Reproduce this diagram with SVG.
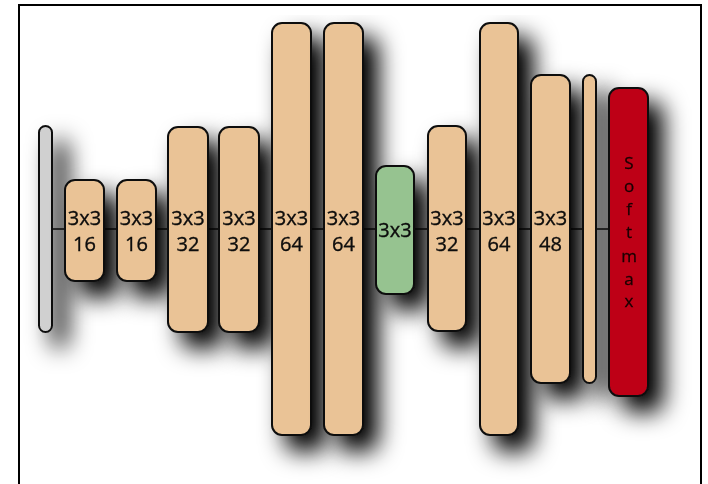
<svg xmlns="http://www.w3.org/2000/svg" width="708" height="484" viewBox="0 0 708 484">
<defs>
<filter id="sh" filterUnits="userSpaceOnUse" x="0" y="0" width="708" height="484">
<feGaussianBlur in="SourceAlpha" stdDeviation="12"/>
<feOffset dx="14" dy="15" result="b"/>
<feComponentTransfer><feFuncA type="linear" slope="1.05"/></feComponentTransfer>
<feMerge><feMergeNode/><feMergeNode in="SourceGraphic"/></feMerge>
</filter>
</defs>
<style>
.b{stroke:#111;stroke-width:2}
.tan{fill:#EAC396}
.gray{fill:#D0D0D0}
.green{fill:#96C390}
.red{fill:#BE0019}
.t{font-family:"Open Sans","DejaVu Sans",sans-serif;font-size:20px;fill:#0a0a0a;stroke:#0a0a0a;stroke-width:0.35;text-anchor:middle}
.s{font-family:"Open Sans","DejaVu Sans",sans-serif;font-size:17px;fill:#1a0000;stroke:#1a0000;stroke-width:0.3;text-anchor:middle}
.n{filter:url(#sh)}
</style>
<rect x="0" y="0" width="708" height="484" fill="#fff"/>
<rect x="19" y="5" width="682" height="490" fill="none" stroke="#000" stroke-width="2"/>
<g id="connectors">
<line x1="45" y1="229" x2="628" y2="229" stroke="#111" stroke-width="1.6"/>
</g>
<g id="input" class="n"><rect class="b gray" x="39" y="126" width="13" height="206" rx="6.5"/></g>
<g id="c1" class="n"><rect class="b tan" x="65" y="180" width="39" height="101" rx="10"/><text class="t" x="84.5" y="225">3x3</text><text class="t" x="84.5" y="251">16</text></g>
<g id="c2" class="n"><rect class="b tan" x="117" y="180" width="39" height="101" rx="10"/><text class="t" x="136.5" y="225">3x3</text><text class="t" x="136.5" y="251">16</text></g>
<g id="c3" class="n"><rect class="b tan" x="168" y="127" width="40" height="205" rx="10"/><text class="t" x="188" y="225">3x3</text><text class="t" x="188" y="251">32</text></g>
<g id="c4" class="n"><rect class="b tan" x="219" y="127" width="40" height="205" rx="10"/><text class="t" x="239" y="225">3x3</text><text class="t" x="239" y="251">32</text></g>
<g id="c5" class="n"><rect class="b tan" x="272" y="23" width="39" height="412" rx="10"/><text class="t" x="291.5" y="225">3x3</text><text class="t" x="291.5" y="251">64</text></g>
<g id="c6" class="n"><rect class="b tan" x="324" y="23" width="39" height="412" rx="10"/><text class="t" x="343.5" y="225">3x3</text><text class="t" x="343.5" y="251">64</text></g>
<g id="c7" class="n"><rect class="b green" x="376" y="166" width="38" height="128" rx="10"/><text class="t" x="395" y="237">3x3</text></g>
<g id="c8" class="n"><rect class="b tan" x="428" y="126" width="38" height="205" rx="10"/><text class="t" x="447" y="225">3x3</text><text class="t" x="447" y="251">32</text></g>
<g id="c9" class="n"><rect class="b tan" x="480" y="23" width="38" height="412" rx="10"/><text class="t" x="499" y="225">3x3</text><text class="t" x="499" y="251">64</text></g>
<g id="c10" class="n"><rect class="b tan" x="531" y="75" width="39" height="308" rx="10"/><text class="t" x="550.5" y="225">3x3</text><text class="t" x="550.5" y="251">48</text></g>
<g id="fc" class="n"><rect class="b tan" x="583" y="75" width="13" height="308" rx="6.5"/></g>
<g id="softmax" class="n"><rect class="b red" x="609" y="88" width="39" height="308" rx="10"/>
<text class="s" x="629" y="169">S</text><text class="s" x="629" y="192">o</text><text class="s" x="629" y="215">f</text><text class="s" x="629" y="238">t</text><text class="s" x="629" y="262">m</text><text class="s" x="629" y="285">a</text><text class="s" x="629" y="307">x</text></g>
</svg>
